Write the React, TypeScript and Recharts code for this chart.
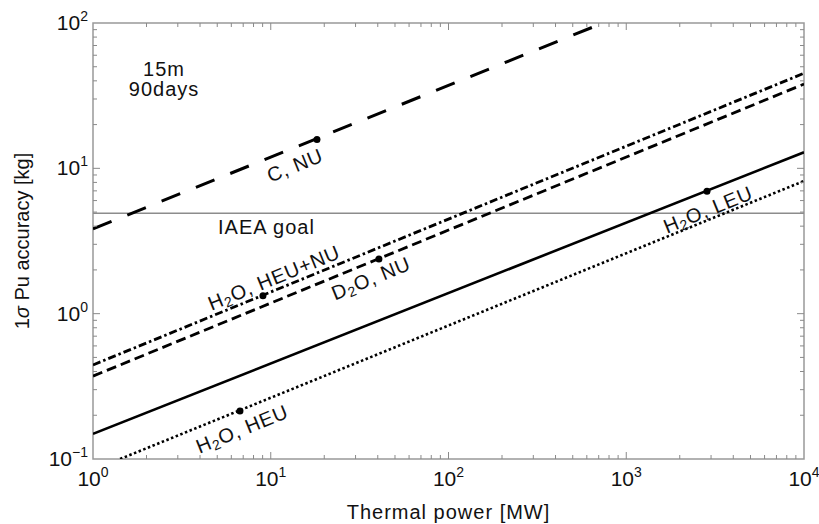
import {
  ComposedChart,
  Line,
  ReferenceArea,
  ReferenceLine,
  Scatter,
  XAxis,
  YAxis,
} from "recharts";

const FONT = '"Liberation Sans", Arial, Helvetica, sans-serif';
const W = 819;
const H = 524;
// plot box in px (margins + axis sizes below give the same box)
const PL = 93;
const PR = 804;
const PT = 23;
const PB = 459;

const X_DECADES = [1, 10, 100, 1000, 10000];
const Y_DECADES = [0.1, 1, 10, 100];
const MINOR = [2, 3, 4, 5, 6, 7, 8, 9];

const withMinor = (decades: number[]) => {
  const out: number[] = [];
  decades.forEach((d, i) => {
    out.push(d);
    if (i < decades.length - 1) MINOR.forEach((m) => out.push(Number((d * m).toPrecision(6))));
  });
  return out;
};
const X_TICKS = withMinor(X_DECADES);
const Y_TICKS = withMinor(Y_DECADES);

// lines (thermal power MW -> 1 sigma Pu accuracy kg)
const C_NU = [{ x: 1, y: 3.83 }, { x: 740, y: 100 }];
const H2O_HEU_NU = [{ x: 1, y: 0.444 }, { x: 10000, y: 45.1 }];
const D2O_NU = [{ x: 1, y: 0.372 }, { x: 10000, y: 38 }];
const H2O_LEU = [{ x: 1, y: 0.149 }, { x: 10000, y: 12.9 }];
const H2O_HEU = [{ x: 1.42, y: 0.1 }, { x: 10000, y: 8.18 }];
const IAEA_GOAL = 4.9;

const MARKERS = [
  { x: 18.2, y: 15.8 },
  { x: 9.04, y: 1.33 },
  { x: 40.6, y: 2.38 },
  { x: 6.71, y: 0.214 },
  { x: 2846, y: 6.95 },
];

// "_2" means subscript 2
const LINE_LABELS = [
  { x: 13.7, y: 10.5, text: "C, NU" },
  { x: 10.43, y: 1.77, text: "H_2O, HEU+NU" },
  { x: 36.6, y: 1.75, text: "D_2O, NU" },
  { x: 6.89, y: 0.161, text: "H_2O, HEU" },
  { x: 2884, y: 5.21, text: "H_2O, LEU" },
];

const NOTES = [
  { x: 2.51, y: 48.6, text: "15m", anchor: "middle" },
  { x: 2.51, y: 34.9, text: "90days", anchor: "middle" },
  { x: 5.05, y: 3.95, text: "IAEA goal", anchor: "start" },
];

const TICK_COLOR = "#8a8a8a";

const expText = (v: number) => {
  const e = Math.round(Math.log10(v));
  return e < 0 ? `\u2212${-e}` : String(e);
};

function XTick(props: any) {
  const { x, payload } = props;
  const v = payload.value;
  const major = X_DECADES.includes(v);
  const len = major ? 7 : 4;
  const edge = v === X_DECADES[0] || v === X_DECADES[X_DECADES.length - 1];
  return (
    <g>
      {!edge && (
        <>
          <line x1={x} x2={x} y1={PB} y2={PB - len} stroke={TICK_COLOR} />
          <line x1={x} x2={x} y1={PT} y2={PT + len} stroke={TICK_COLOR} />
        </>
      )}
      {major && (
        <text x={x} y={PB + 27} textAnchor="middle" fontSize={21} fontFamily={FONT} fill="#111">
          10
          <tspan dy={-9} fontSize={14}>
            {expText(v)}
          </tspan>
        </text>
      )}
    </g>
  );
}

function YTick(props: any) {
  const { y, payload } = props;
  const v = payload.value;
  const major = Y_DECADES.includes(v);
  const len = major ? 7 : 4;
  const edge = v === Y_DECADES[0] || v === Y_DECADES[Y_DECADES.length - 1];
  return (
    <g>
      {!edge && (
        <>
          <line x1={PL} x2={PL + len} y1={y} y2={y} stroke={TICK_COLOR} />
          <line x1={PR} x2={PR - len} y1={y} y2={y} stroke={TICK_COLOR} />
        </>
      )}
      {major && (
        <text x={PL - 5} y={y + 7} textAnchor="end" fontSize={21} fontFamily={FONT} fill="#111">
          10
          <tspan dy={-9} fontSize={14}>
            {expText(v)}
          </tspan>
        </text>
      )}
    </g>
  );
}

function richText(s: string) {
  const parts = s.split("_");
  return parts.map((p, i) => {
    if (i === 0) return <tspan key={i}>{p}</tspan>;
    return [
      <tspan key={i + "s"} dy={5} fontSize={14}>
        {p[0]}
      </tspan>,
      <tspan key={i + "r"} dy={-5}>
        {p.slice(1)}
      </tspan>,
    ];
  });
}

const LineLabel = (p: any) => (
  <text
    x={p.cx}
    y={p.cy}
    transform={`rotate(-22.2 ${p.cx} ${p.cy})`}
    textAnchor="middle"
    dominantBaseline="central"
    fontSize={20}
    letterSpacing={0.8}
    fontFamily={FONT}
    fill="#111"
  >
    {richText(p.payload.text)}
  </text>
);

const Note = (p: any) => (
  <text
    x={p.cx}
    y={p.cy}
    textAnchor={p.payload.anchor}
    dominantBaseline="central"
    fontSize={20}
    letterSpacing={1}
    fontFamily={FONT}
    fill="#111"
  >
    {p.payload.text}
  </text>
);

const Marker = (p: any) => <circle cx={p.cx} cy={p.cy} r={3.5} fill="#000" />;

export default function App() {
  return (
    <div style={{ position: "fixed", left: 0, top: 0, width: W, height: H, background: "#fff" }}>
      <ComposedChart width={W} height={H} margin={{ top: PT, right: W - PR, bottom: 25, left: PL - 60 }}>
        <XAxis
          dataKey="x"
          type="number"
          scale="log"
          domain={[1, 10000]}
          allowDataOverflow
          ticks={X_TICKS}
          interval={0}
          tick={(p: any) => <XTick {...p} />}
          tickLine={false}
          axisLine={false}
          height={H - PB - 25}
        />
        <YAxis
          dataKey="y"
          type="number"
          scale="log"
          domain={[0.1, 100]}
          allowDataOverflow
          ticks={Y_TICKS}
          interval={0}
          tick={(p: any) => <YTick {...p} />}
          tickLine={false}
          axisLine={false}
          width={60}
        />
        <ReferenceArea x1={1} x2={10000} y1={0.1} y2={100} fill="none" stroke="#999" strokeWidth={1.5} />
        <ReferenceLine y={IAEA_GOAL} stroke="#8c8c8c" strokeWidth={1.5} />
        <Line data={C_NU} dataKey="y" type="linear" dot={false} stroke="#000" strokeWidth={3} strokeDasharray="20 17" isAnimationActive={false} />
        <Line data={H2O_HEU_NU} dataKey="y" type="linear" dot={false} stroke="#000" strokeWidth={2.8} strokeDasharray="8 3 2.5 3" isAnimationActive={false} />
        <Line data={D2O_NU} dataKey="y" type="linear" dot={false} stroke="#000" strokeWidth={2.8} strokeDasharray="10 5" isAnimationActive={false} />
        <Line data={H2O_LEU} dataKey="y" type="linear" dot={false} stroke="#000" strokeWidth={2.6} isAnimationActive={false} />
        <Line data={H2O_HEU} dataKey="y" type="linear" dot={false} stroke="#000" strokeWidth={2.6} strokeDasharray="2.5 2.5" isAnimationActive={false} />
        <Scatter data={MARKERS} shape={Marker} isAnimationActive={false} />
        <Scatter data={LINE_LABELS} shape={LineLabel} isAnimationActive={false} />
        <Scatter data={NOTES} shape={Note} isAnimationActive={false} />
      </ComposedChart>
      <svg width={W} height={H} style={{ position: "absolute", left: 0, top: 0, pointerEvents: "none" }}>
        <text x={(PL + PR) / 2} y={519} textAnchor="middle" fontSize={20} letterSpacing={1} fontFamily={FONT} fill="#111">
          Thermal power [MW]
        </text>
        <text
          x={29}
          y={(PT + PB) / 2}
          transform={`rotate(-90 29 ${(PT + PB) / 2})`}
          textAnchor="middle"
          fontSize={20}
          fontFamily={FONT}
          fill="#111"
        >
          1<tspan fontStyle="italic">σ</tspan> Pu accuracy [kg]
        </text>
      </svg>
    </div>
  );
}
